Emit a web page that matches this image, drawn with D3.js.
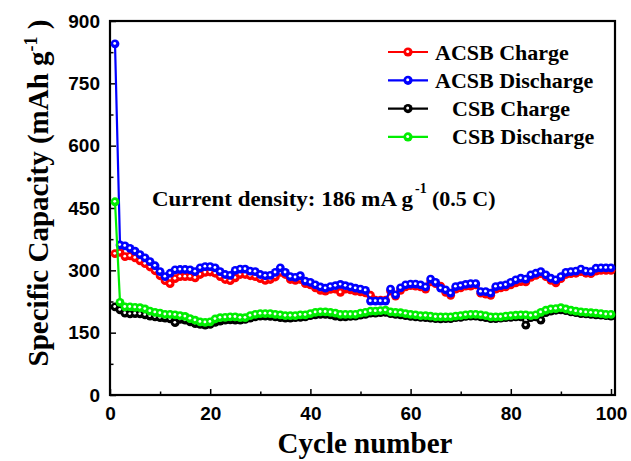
<!DOCTYPE html>
<html>
<head>
<meta charset="utf-8">
<script src="https://cdnjs.cloudflare.com/ajax/libs/d3/7.8.5/d3.min.js"></script>
<style>
  body { margin: 0; background: #fff; }
  .tick text { font-family: "Liberation Sans", Arial, sans-serif; font-weight: bold; font-size: 19px; fill: #000; }
  .serif { font-family: "Liberation Serif", "Times New Roman", serif; font-weight: bold; fill: #000; }
</style>
</head>
<body>
<div id="chart"></div>
<script>
// Data (cycles 1..100)
var cycles = d3.range(1, 101);

var acsbCharge = [
  340, 343, 333, 335, 330, 323, 316, 308, 299, 287,
  275, 268, 280, 285, 285, 285, 282, 290, 295, 296,
  293, 285, 278, 275, 282, 290, 290, 287, 285, 280,
  276, 278, 284, 295, 290, 278, 276, 278, 268, 265,
  258, 252, 250, 254, 255, 247, 255, 253, 250, 248,
  246, 240, 228, 228, 228, 250, 238, 252, 260, 263,
  262, 260, 255, 272, 268, 262, 247, 240, 255, 258,
  262, 262, 265, 245, 243, 240, 255, 258, 260, 265,
  270, 273, 272, 283, 288, 292, 285, 276, 270, 280,
  290, 292, 293, 297, 293, 292, 298, 300, 300, 300
];

var acsbDischarge = [
  845, 361, 359, 353, 346, 338, 330, 321, 311, 297,
  285, 293, 301, 302, 302, 301, 297, 306, 309, 309,
  306, 297, 290, 288, 300, 303, 303, 298, 297, 290,
  287, 288, 295, 306, 295, 285, 283, 287, 274, 271,
  265, 260, 257, 261, 263, 266, 263, 260, 257, 255,
  252, 226, 226, 226, 226, 255, 241, 258, 265, 267,
  267, 265, 260, 279, 271, 257, 253, 245, 261, 263,
  266, 268, 268, 249, 249, 245, 261, 263, 265, 271,
  277, 281, 279, 289, 293, 297, 289, 281, 277, 285,
  295, 297, 298, 303, 298, 297, 305, 306, 306, 306
];

var csbCharge = [
  212, 205, 197, 195, 196, 195, 193, 190, 188, 186,
  185, 183, 174, 182, 180, 176, 172, 170, 168, 170,
  175, 178, 180, 181, 180, 180, 182, 185, 188, 190,
  190, 189, 188, 186, 185, 185, 186, 187, 188, 191,
  193, 194, 194, 193, 190, 188, 188, 189, 190, 192,
  194, 197, 197, 198, 199, 196, 194, 193, 191, 189,
  188, 187, 186, 185, 184, 183, 184, 184, 186, 187,
  189, 190, 190, 188, 186, 184, 184, 185, 186, 187,
  188, 188, 168, 186, 188, 180, 198, 202, 204, 205,
  203, 200, 198, 196, 195, 194, 193, 192, 191, 190
];

var csbDischarge = [
  465, 223, 212, 212, 211, 210, 207, 202, 199, 197,
  194, 194, 193, 191, 189, 184, 180, 176, 175, 176,
  183, 186, 187, 188, 188, 186, 186, 191, 194, 196,
  196, 196, 194, 193, 191, 191, 191, 193, 193, 196,
  199, 200, 200, 199, 197, 194, 194, 194, 194, 197,
  199, 202, 202, 203, 204, 200, 199, 198, 196, 194,
  193, 191, 191, 190, 188, 188, 188, 188, 190, 191,
  193, 194, 194, 193, 191, 188, 188, 188, 190, 191,
  192, 193, 193, 191, 193, 199, 204, 207, 208, 210,
  207, 204, 202, 200, 199, 198, 197, 196, 194, 194
];

var seriesNames = ["ACSB Charge", "ACSB Discharge", "CSB Charge", "CSB Discharge"];
var seriesColors = ["#ff0000", "#0000ff", "#000000", "#00ee00"];
var seriesValues = [acsbCharge, acsbDischarge, csbCharge, csbDischarge];

var xTicks = [0, 20, 40, 60, 80, 100];
var yTicks = [0, 150, 300, 450, 600, 750, 900];

var svgWidth = 631;
var svgHeight = 461;

var margin = { top: 21, right: 16, bottom: 66, left: 110 };
var width = svgWidth - margin.left - margin.right;
var height = svgHeight - margin.top - margin.bottom;

var svg = d3.select("#chart")
  .append("svg")
  .attr("width", svgWidth)
  .attr("height", svgHeight);

var chartGroup = svg.append("g")
  .attr("transform", `translate(${margin.left}, ${margin.top})`);

// scales
var xScale = d3.scaleLinear().domain([0, 100.8]).range([0, width]);
var yScale = d3.scaleLinear().domain([0, 900]).range([height, 0]);

// minor ticks first, then major ticks with labels (all pointing inward)
chartGroup.append("g")
  .attr("transform", `translate(0, ${height})`)
  .call(d3.axisBottom(xScale).tickValues(d3.range(10, 100, 20)).tickSize(-3.5).tickFormat(""))
  .call(g => g.select(".domain").remove())
  .selectAll("line").attr("stroke-width", 1.5);

chartGroup.append("g")
  .call(d3.axisLeft(yScale).tickValues(d3.range(75, 900, 150)).tickSize(-3.5).tickFormat(""))
  .call(g => g.select(".domain").remove())
  .selectAll("line").attr("stroke-width", 1.5);

var xAxis = chartGroup.append("g")
  .attr("transform", `translate(0, ${height})`)
  .call(d3.axisBottom(xScale).tickValues(xTicks).tickSize(-6).tickPadding(12));
xAxis.select(".domain").remove();
xAxis.selectAll("line").attr("stroke-width", 1.5);

var yAxis = chartGroup.append("g")
  .call(d3.axisLeft(yScale).tickValues(yTicks).tickSize(-6).tickPadding(10));
yAxis.select(".domain").remove();
yAxis.selectAll("line").attr("stroke-width", 1.5);

// frame
chartGroup.append("rect")
  .attr("x", 0)
  .attr("y", 0)
  .attr("width", width)
  .attr("height", height)
  .attr("fill", "none")
  .attr("stroke", "#000")
  .attr("stroke-width", 2.2);

var line = d3.line()
  .x(d => xScale(d[0]))
  .y(d => yScale(d[1]));

// draw series: line + ball markers
seriesValues.forEach(function(vals, i) {
  var pts = cycles.map((c, j) => [c, vals[j]]);
  var g = chartGroup.append("g");

  g.append("path")
    .datum(pts)
    .attr("d", line)
    .attr("fill", "none")
    .attr("stroke", seriesColors[i])
    .attr("stroke-width", 2.2);

  g.selectAll("circle.dot")
    .data(pts)
    .enter()
    .append("circle")
    .attr("class", "dot")
    .attr("cx", d => xScale(d[0]))
    .attr("cy", d => yScale(d[1]))
    .attr("r", 4.4)
    .attr("fill", seriesColors[i]);

  g.selectAll("circle.hl")
    .data(pts)
    .enter()
    .append("circle")
    .attr("class", "hl")
    .attr("cx", d => xScale(d[0]) - 0.3)
    .attr("cy", d => yScale(d[1]) - 0.4)
    .attr("r", 1.4)
    .attr("fill", "#fff");
});

// legend
var legendX = [435, 435, 452, 452];
var legend = svg.append("g");
seriesNames.forEach(function(name, i) {
  var ly = 52 + i * 28.3;
  legend.append("line")
    .attr("x1", 388).attr("x2", 428)
    .attr("y1", ly).attr("y2", ly)
    .attr("stroke", seriesColors[i])
    .attr("stroke-width", 2.2);
  legend.append("circle")
    .attr("cx", 408).attr("cy", ly).attr("r", 4.6)
    .attr("fill", seriesColors[i]);
  legend.append("circle")
    .attr("cx", 407.7).attr("cy", ly - 0.5).attr("r", 1.5)
    .attr("fill", "#fff");
  legend.append("text")
    .attr("class", "serif")
    .attr("x", legendX[i])
    .attr("y", ly + 7.5)
    .attr("font-size", "22px")
    .text(name);
});

// annotation
svg.append("text")
  .attr("class", "serif")
  .attr("x", 152)
  .attr("y", 206)
  .attr("font-size", "22px")
  .attr("textLength", 261)
  .attr("lengthAdjust", "spacingAndGlyphs")
  .text("Current density: 186 mA g");
svg.append("text")
  .attr("class", "serif")
  .attr("x", 415)
  .attr("y", 193)
  .attr("font-size", "14px")
  .text("-1");
svg.append("text")
  .attr("class", "serif")
  .attr("x", 432)
  .attr("y", 206)
  .attr("font-size", "22px")
  .text("(0.5 C)");

// axis titles
svg.append("text")
  .attr("class", "serif")
  .attr("x", 365)
  .attr("y", 453)
  .attr("text-anchor", "middle")
  .attr("font-size", "29px")
  .text("Cycle number");

var yTitle = svg.append("text")
  .attr("class", "serif")
  .attr("transform", "translate(48, 193) rotate(-90)")
  .attr("text-anchor", "middle")
  .attr("font-size", "29px");
yTitle.append("tspan").text("Specific Capacity (mAh g");
yTitle.append("tspan").attr("dy", -11).attr("font-size", "18px").text("-1");
yTitle.append("tspan").attr("dy", 11).text(" )");
</script>
</body>
</html>
